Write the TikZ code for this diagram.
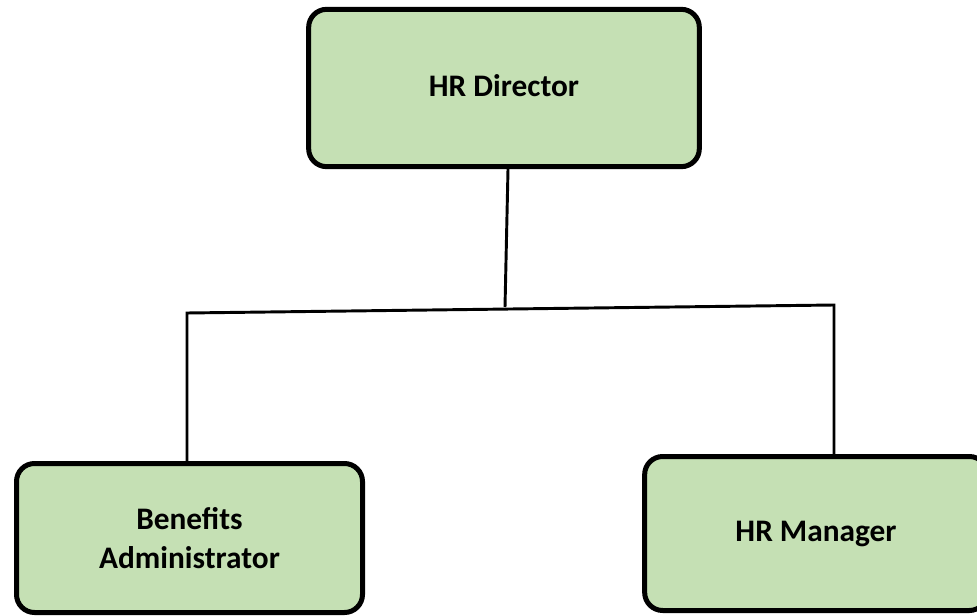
\documentclass[tikz,border=0pt]{standalone}
\usepackage{fontspec}
\setmainfont{Carlito}
\definecolor{boxgreen}{HTML}{C5E0B4}
\begin{document}
\begin{tikzpicture}[x=0.75pt, y=-0.75pt,
    orgbox/.style={draw=black, fill=boxgreen, line width=3.75pt,
      rounded corners=13.5pt, inner sep=0pt, align=center,
      font=\bfseries\fontsize{23.5}{28.7}\selectfont},
    link/.style={line width=2.2pt, line join=miter}]
    \useasboundingbox (0,0) rectangle (977,616);

    \node [orgbox, minimum width=293pt, minimum height=118pt] (dir) at (504,88) {\raisebox{4pt}{HR Director}};
    \node [orgbox, minimum width=259.5pt, minimum height=111.75pt] (ben) at (189.5,538) {Benefits\\Administrator};
    \node [orgbox, minimum width=257pt, minimum height=115.5pt] (mgr) at (816,533.5) {\raisebox{-4pt}{HR Manager}};

    \coordinate (jn) at (505,307);
    \coordinate (lc) at (187,313);
    \coordinate (rc) at (834,305);

    \draw [link] ([xshift=3pt]dir.south) -- (jn);
    \draw [link] (ben.north -| lc) -- (lc) -- (rc) -- (mgr.north -| rc);

  \end{tikzpicture}
\end{document}
